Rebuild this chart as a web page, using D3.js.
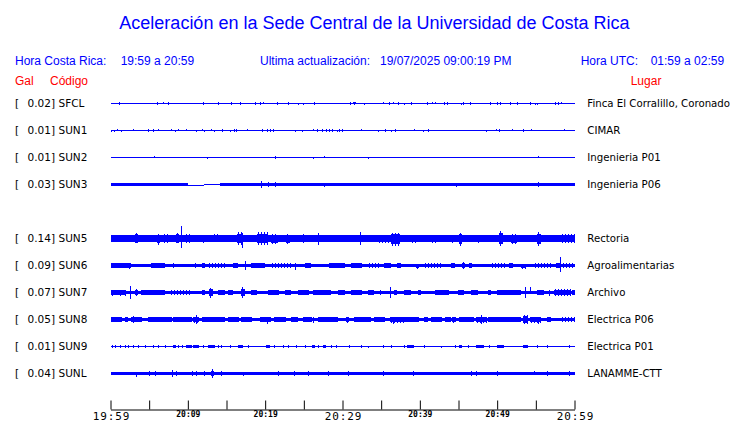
<!DOCTYPE html>
<html><head><meta charset="utf-8">
<script src="https://cdn.jsdelivr.net/npm/d3@7/dist/d3.min.js"></script>
<style>
html,body{margin:0;padding:0;background:#fff;}
svg{display:block;}
</style></head>
<body>
<svg id="chart" width="740" height="423"></svg>
<script>
// ---------------- DATA ----------------
const titleText = "Aceleración en la Sede Central de la Universidad de Costa Rica";
const localRange = "19:59 a 20:59";
const lastUpdate = "19/07/2025 09:00:19 PM";
const utcRange = "01:59 a 02:59";

const slots = ["SFCL","SUN1","SUN2","SUN3","SUN4","SUN5","SUN6","SUN7","SUN8","SUN9","SUNL"];
const stations = ["SFCL","SUN1","SUN2","SUN3","SUN5","SUN6","SUN7","SUN8","SUN9","SUNL"];
const peakGal = [0.02,0.01,0.01,0.03,0.14,0.09,0.07,0.05,0.01,0.04];
const places = ["Finca El Corralillo, Coronado","CIMAR","Ingenieria P01","Ingenieria P06","Rectoria",
                "Agroalimentarias","Archivo","Electrica P06","Electrica P01","LANAMME-CTT"];
// background noise level (gal) of each trace
const noiseLevel = [0.006,0.006,0.006,0.02,0.036,0.02,0.02,0.021,0.009,0.021];
// SUN3 noise segments: [startMin, endMin, halfAmp, offset]
const sun3Segments = [[0,9.96,0.02,0],[9.96,12.06,0.004,-0.012],[12.06,14.13,0.004,0],
                      [14.13,43.8,0.02,0],[43.8,46.4,0.018,0],[46.4,60,0.02,0]];

// bursts: [startMin, endMin, up(gal), down(gal)]  (minutes after 19:59)
const burstsSFCL = [[1.1,1.1,.018,.018],[6.0,6.0,.018,.018],[6.8,6.8,.012,.01],[7.3,7.6,.016,.016],[10.8,10.8,.008,.01],
 [12.0,12.0,.016,.014],[13.9,13.9,.014,.012],[15.6,15.6,.014,.014],[16.8,16.8,.016,.016],[18.6,19.1,.016,.016],
 [19.3,19.3,.016,.016],[19.7,19.7,.018,.01],[20.8,20.8,.01,.008],[21.4,21.7,.016,.016],[23.0,23.0,.016,.014],
 [24.2,24.2,.006,.012],[24.9,24.9,.006,.012],[26.3,26.3,.016,.016],[30.8,31.1,.016,.016],[31.4,31.7,.018,.014],
 [32.8,32.8,.004,.014],[35.3,35.3,.014,.01],[36.0,36.0,.016,.016],[36.5,36.5,.012,.01],[37.2,37.2,.014,.012],
 [37.9,37.9,.004,.012],[38.7,39.0,.016,.016],[40.9,40.9,.016,.016],[41.6,41.6,.014,.008],[42.0,42.0,.012,.008],
 [43.1,43.1,.016,.016],[43.5,43.5,.016,.016],[45.3,45.3,.004,.012],[45.6,45.6,.014,.012],[46.5,46.5,.016,.016],
 [49.0,49.3,.016,.016],[50.0,50.0,.016,.016],[50.4,50.4,.014,.012],[51.7,51.7,.014,.012],[52.6,52.6,.012,.012],
 [54.3,54.3,.014,.012],[54.9,54.9,.004,.012],[55.1,55.1,.004,.012],[57.3,58.0,.016,.016],[58.3,58.3,.014,.01]];
const burstsSUN1 = [[0.06,0.06,.004,.012],[0.5,0.5,.004,.012],[0.9,0.9,.012,.004],[1.3,1.3,.004,.012],[2.9,2.9,.014,.006],
 [4.7,5.2,.016,.016],[5.5,5.6,.016,.016],[6.2,6.2,.014,.01],[7.8,7.8,.014,.008],[8.4,8.4,.006,.012],[8.75,8.75,.012,.008],
 [9.7,9.7,.012,.006],[11.0,11.0,.006,.012],[11.8,11.8,.014,.006],[12.1,12.1,.006,.012],[13.0,13.0,.012,.008],
 [13.4,13.4,.006,.012],[14.3,14.7,.016,.016],[15.5,15.5,.006,.012],[16.0,16.0,.014,.012],[16.2,16.2,.014,.012],
 [17.7,17.7,.014,.006],[19.6,19.6,.014,.012],[20.1,21.3,.016,.016],[23.9,23.9,.006,.012],[24.7,24.7,.006,.012],
 [26.2,26.2,.014,.006],[26.7,26.9,.012,.016],[27.3,27.3,.014,.012],[27.8,28.8,.016,.016],[29.3,29.3,.006,.012],
 [29.6,29.6,.014,.012],[29.9,29.9,.014,.012],[32.4,32.4,.014,.006],[34.5,34.8,.006,.016],[35.4,35.8,.016,.016],
 [36.3,36.3,.006,.012],[36.8,36.8,.014,.012],[39.3,39.3,.014,.006],[40.4,40.4,.006,.012],[41.1,41.1,.014,.012],
 [48.6,48.6,.006,.012],[49.9,49.9,.014,.006],[50.3,50.3,.014,.012],[51.9,51.9,.014,.006],[53.4,53.4,.014,.012],
 [54.4,54.4,.014,.006],[58.6,58.6,.014,.006]];
const burstsSUN2 = [[5.6,5.6,.012,.006],[8.2,8.2,.01,.006],[12.5,12.5,.006,.012],[16.5,16.5,.01,.006],[21.3,21.3,.016,.016],
 [26.2,26.2,.006,.012],[27.6,27.6,.012,.006],[33.3,33.3,.006,.012],[55.1,55.4,.012,.006]];
const burstsSUN3 = [[19.5,19.5,.039,.039],[20.37,20.37,.024,.024],[21.3,21.3,.027,.027],[27.6,27.6,.02,.027],
 [44.67,44.67,.02,.024],[55.3,55.3,.033,.033]];
const burstsSUN5 = [[0,2.7,.039,.039],[3.2,3.5,.066,.058],[6.0,6.4,.055,.074],[6.8,7.4,.047,.051],[8.5,8.9,.062,.058],
 [9.18,9.18,.145,.113],[9.6,10.5,.055,.051],[12.0,12.0,.043,.055],[13.3,14.0,.05,.043],[16.3,17.1,.074,.078],
 [17.0,17.0,.06,.105],[18.9,20.4,.074,.074],[20.8,21.7,.055,.062],[22.7,23.2,.055,.062],[24.9,24.9,.047,.051],
 [26.8,27.0,.062,.074],[29.4,30.3,.043,.043],[32.2,32.4,.074,.074],[33.7,33.7,.03,.035],[34.6,35.9,.043,.051],
 [36.3,37.4,.066,.09],[38.9,39.7,.043,.051],[41.4,42.3,.043,.051],[44.2,44.4,.043,.051],[45.1,45.5,.07,.09],
 [47.5,47.6,.043,.051],[50.3,50.7,.086,.09],[51.8,52.6,.047,.062],[55.2,55.7,.074,.082],[56.9,57.8,.043,.043],
 [58.2,60,.047,.051]];
const burstsSUN6 = [[0,2.7,.031,.031],[2.4,2.4,.027,.04],[5.3,7.0,.027,.027],[8.1,8.3,.027,.027],[10.9,10.9,.027,.027],
 [11.8,12.2,.027,.027],[12.6,14.8,.024,.024],[15.8,16.5,.027,.027],[17.4,17.6,.047,.051],[18.2,19.9,.027,.027],
 [20.8,23.4,.024,.024],[23.8,24.0,.031,.051],[25.1,25.9,.027,.027],[28.3,30.3,.027,.027],[31.1,32.4,.027,.027],
 [33.3,34.6,.024,.024],[35.4,36.3,.027,.027],[37.1,37.6,.027,.027],[39.5,39.9,.02,.039],[40.6,42.7,.024,.024],
 [44.0,44.5,.027,.027],[45.5,45.9,.039,.039],[46.4,46.8,.027,.027],[49.2,50.9,.024,.024],[51.5,52.0,.027,.027],
 [53.1,53.7,.02,.039],[54.8,56.9,.024,.024],[57.6,58.3,.031,.031],[58.1,58.1,.1,.078],[58.4,60,.024,.024]];
const burstsSUN7 = [[0,1.9,.027,.027],[0.2,0.2,.035,.035],[1.2,1.2,.035,.035],[1.9,1.9,.035,.035],[2.52,2.52,.074,.074],
 [3.16,3.59,.043,.043],[4.0,7.0,.027,.027],[7.7,10.5,.024,.024],[11.8,12.2,.027,.027],[12.8,13.3,.051,.066],
 [13.9,14.8,.027,.027],[15.2,15.9,.031,.031],[16.9,17.4,.059,.059],[18.2,18.9,.027,.027],[20.4,21.7,.031,.031],
 [22.5,23.4,.027,.027],[24.2,25.5,.027,.027],[26.2,28.5,.027,.027],[29.4,30.3,.027,.027],[31.1,32.4,.027,.027],
 [33.3,34.1,.027,.027],[34.8,35.0,.027,.027],[36.1,36.1,.062,.066],[36.7,37.1,.027,.027],[38.0,38.9,.031,.031],
 [39.7,40.2,.027,.027],[41.9,43.6,.027,.027],[44.9,45.7,.027,.027],[46.6,47.5,.027,.027],[48.8,49.2,.027,.027],
 [50.0,53.1,.027,.027],[53.6,53.6,.059,.066],[54.3,54.3,.062,.02],[55.2,56.1,.027,.027],[56.7,56.9,.031,.043],
 [57.3,59.5,.039,.035],[59.7,60,.027,.027]];
const burstsSUN8 = [[0,1.4,.031,.031],[1.9,2.3,.027,.027],[2.7,4.0,.031,.031],[2.95,2.95,.039,.039],[4.9,7.9,.027,.027],
 [8.1,10.5,.031,.031],[10.7,11.5,.035,.035],[11.1,11.1,.051,.055],[11.8,14.8,.027,.027],[15.2,16.5,.027,.027],
 [16.9,18.2,.027,.027],[19.3,20.8,.031,.031],[20.2,20.2,.031,.047],[21.2,22.7,.027,.027],[23.4,24.2,.027,.027],
 [24.9,26.0,.027,.027],[26.2,26.4,.031,.039],[26.8,29.4,.027,.027],[30.5,30.9,.031,.039],[31.5,33.7,.027,.027],
 [34.1,35.4,.027,.027],[36.1,37.8,.031,.035],[36.5,36.5,.031,.047],[38.0,39.9,.027,.027],[40.6,41.0,.027,.027],
 [41.4,42.7,.027,.027],[43.2,44.0,.027,.027],[44.2,44.7,.031,.039],[45.1,47.0,.027,.027],[47.2,48.5,.035,.035],
 [47.9,47.9,.051,.051],[48.8,53.1,.027,.027],[53.3,53.9,.051,.055],[54.3,55.6,.031,.039],[55.3,55.3,.031,.055],
 [56.5,56.9,.027,.027],[58.2,60,.024,.024]];
const burstsSUN9 = [[0.15,0.15,.02,.02],[0.58,0.58,.016,.016],[1.2,1.2,.02,.02],[1.9,1.9,.016,.016],[2.3,2.3,.016,.016],
 [2.9,2.9,.02,.02],[3.6,3.8,.016,.016],[4.5,4.5,.02,.02],[5.5,5.5,.016,.016],[6.2,6.2,.02,.02],[7.0,7.0,.016,.016],
 [8.1,8.5,.016,.016],[8.75,8.75,.02,.02],[9.2,9.2,.016,.016],[9.8,10.5,.016,.016],[10.7,11.5,.016,.016],
 [12.0,12.2,.02,.02],[12.6,13.5,.016,.016],[13.9,13.9,.02,.02],[14.3,14.3,.016,.016],[15.4,15.6,.02,.02],
 [16.5,17.1,.016,.016],[17.8,17.8,.016,.016],[20.1,20.6,.016,.016],[21.2,21.2,.02,.02],[22.3,22.3,.016,.016],
 [22.9,22.9,.02,.02],[24.0,24.0,.016,.016],[25.1,25.1,.016,.016],[26.0,26.4,.016,.016],[26.8,26.8,.02,.02],
 [27.5,27.9,.016,.016],[28.5,28.5,.02,.02],[29.2,29.2,.016,.016],[30.9,30.9,.016,.016],[32.4,32.4,.016,.016],
 [33.3,33.3,.009,.02],[35.2,35.2,.016,.016],[36.3,36.3,.016,.016],[38.0,38.0,.016,.016],[38.4,39.3,.016,.016],
 [40.6,40.6,.016,.016],[42.7,42.7,.009,.02],[44.5,44.5,.016,.016],[45.1,45.5,.02,.016],[46.2,46.2,.016,.016],
 [47.2,48.3,.016,.016],[49.0,49.0,.016,.016],[50.0,50.9,.016,.016],[53.3,53.9,.016,.016],[55.2,55.2,.016,.016],
 [56.5,56.5,.016,.016],[59.3,59.3,.016,.016]];
const burstsSUNL = [[3.25,3.25,.021,.035],[5.0,5.0,.029,.029],[5.7,5.7,.029,.029],[7.9,7.9,.039,.039],[8.45,8.45,.029,.029],
 [10.5,10.5,.029,.029],[11.1,11.1,.029,.029],[12.1,12.1,.029,.029],[13.0,13.4,.047,.047],[14.3,14.3,.029,.029],
 [17.1,17.1,.021,.031],[21.7,21.7,.029,.029],[23.7,23.7,.029,.029],[25.5,25.5,.029,.029],[28.1,28.1,.029,.029],
 [30.7,30.7,.029,.029],[35.2,35.2,.029,.029],[39.1,39.3,.029,.029],[46.6,46.6,.029,.029],[47.2,47.2,.029,.029],
 [50.0,50.0,.029,.029],[54.8,54.8,.027,.021],[56.5,56.5,.029,.029],[59.3,59.3,.029,.029]];
const burstsByStation = [burstsSFCL,burstsSUN1,burstsSUN2,burstsSUN3,burstsSUN5,burstsSUN6,burstsSUN7,burstsSUN8,burstsSUN9,burstsSUNL];

// time axis: minutes after 19:59 and their labels
const tickMinutes = [0,5,10,15,20,25,30,35,40,45,50,55,60];
const tickLabels = ["19:59","20:04","20:09","20:14","20:19","20:24","20:29","20:34","20:39","20:44","20:49","20:54","20:59"];
const majorLabels = ["19:59","20:29","20:59"];
const minorLabels = ["20:09","20:19","20:39","20:49"];

// ---------------- CHART ----------------
const BLUE = "#0000ff", RED = "#ff0000";
const svg = d3.select("#chart");
const x = d3.scaleLinear().domain([0,60]).range([110.5,574.5]);
const row = d3.scalePoint().domain(slots).range([103.5,373.5]);
const amp = d3.scaleLinear().domain([0,0.14]).range([0,12]);

const sans = "'Liberation Sans', Arial, sans-serif";
const dejavu = "'DejaVu Sans', sans-serif";

svg.append("text").attr("x",374.5).attr("y",29).attr("text-anchor","middle")
  .style("font-family",sans).style("font-size","18px").attr("fill",BLUE).text(titleText);

const header = [
  ["Hora Costa Rica:",15,65,BLUE],[localRange,120.7,65,BLUE],
  ["Ultima actualización:",260,65,BLUE],[lastUpdate,380,65,BLUE],
  ["Hora UTC:",580.7,65,BLUE],[utcRange,650.7,65,BLUE],
  ["Gal",15,85,RED],["Código",50,85,RED],["Lugar",630.7,85,RED]
];
svg.selectAll("text.hdr").data(header).join("text").attr("class","hdr")
  .attr("x",d=>d[1]).attr("y",d=>d[2]).attr("fill",d=>d[3])
  .style("font-family",sans).style("font-size","12px").text(d=>d[0]);

const traces = stations.map((s,i)=>({
  code:s, gal:peakGal[i], place:places[i], level:noiseLevel[i],
  base: s==="SUN3" ? sun3Segments : [[0,60,noiseLevel[i],0]],
  bursts: burstsByStation[i]
}));

const g = svg.selectAll("g.trace").data(traces).join("g").attr("class","trace")
  .attr("transform",d=>`translate(0,${row(d.code)})`);

g.append("text").attr("x",15).attr("y",3.8).style("font-family",dejavu).style("font-size","10.5px").text("[");
g.append("text").attr("x",27.5).attr("y",3.8).style("font-family",dejavu).style("font-size","10.5px")
  .text(d=>d3.format(".2f")(d.gal)+"]");
g.append("text").attr("x",58.5).attr("y",3.8).style("font-family",dejavu).style("font-size","10.5px").text(d=>d.code);
g.append("text").attr("x",587.3).attr("y",3.8).style("font-family",dejavu).style("font-size","10.2px").text(d=>d.place);

const wave = g.append("g").attr("shape-rendering","crispEdges").attr("fill",BLUE);
wave.selectAll("rect.base").data(d=>d.base).join("rect").attr("class","base")
  .attr("x",d=>x(d[0])).attr("width",d=>x(d[1])-x(d[0]))
  .attr("y",d=>-amp(d[2])-amp(d[3]))
  .attr("height",d=>Math.max(1,2*amp(d[2])));

// each burst: a body at half its envelope plus thin full-height strokes across it
wave.each(function(tr){
  const sel = d3.select(this);
  tr.bursts.forEach(b=>{
    const x0 = x(b[0]), x1 = x(b[1]);
    if (x1 - x0 < 2) {
      sel.append("rect").attr("x",Math.round(x0)).attr("width",1)
        .attr("y",-amp(b[2])).attr("height",amp(b[2])+amp(b[3]));
    } else {
      const hu = (amp(b[2])+amp(tr.level))/2, hd = (amp(b[3])+amp(tr.level))/2;
      sel.append("rect").attr("x",x0).attr("width",x1-x0).attr("y",-hu).attr("height",hu+hd);
      d3.range(x0+1, x1, 3).forEach(px=>{
        sel.append("rect").attr("x",Math.round(px)).attr("width",1)
          .attr("y",-amp(b[2])).attr("height",amp(b[2])+amp(b[3]));
      });
    }
  });
});

// axis
const axis = d3.axisBottom(x).tickValues(tickMinutes).tickSizeInner(-9).tickSizeOuter(0)
  .tickFormat((d,i)=>tickLabels[i]);
const ag = svg.append("g").attr("transform","translate(0,409.5)").call(axis);
ag.select(".domain").attr("stroke","#000");
ag.selectAll(".tick line").attr("stroke","#000");
ag.selectAll(".tick text").attr("fill","#000").attr("dy",null)
  .each(function(){
    const t = d3.select(this), s = t.text();
    if (majorLabels.includes(s)) {
      t.attr("y",10).style("font-family","'DejaVu Sans Mono', monospace").style("font-size","11px")
       .style("letter-spacing","0.9px").attr("dx",0.45);
    } else if (minorLabels.includes(s)) {
      t.attr("y",7.3).style("font-family","'DejaVu Sans Mono', monospace").style("font-size","8px")
       .style("font-weight","bold");
    } else {
      t.text("");
    }
  });
</script>
</body></html>
